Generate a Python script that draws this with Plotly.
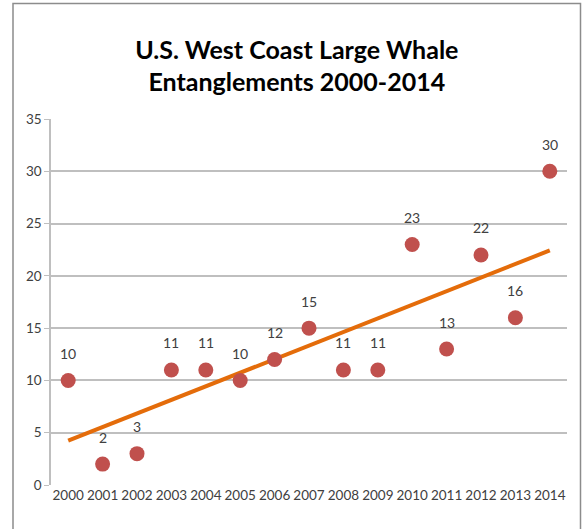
import plotly.graph_objects as go
import numpy as np

years = ["2000","2001","2002","2003","2004","2005","2006","2007","2008","2009","2010","2011","2012","2013","2014"]
entanglements = [10, 2, 3, 11, 11, 10, 12, 15, 11, 11, 23, 13, 22, 16, 30]
y_ticks = [0, 5, 10, 15, 20, 25, 30, 35]

xi = np.arange(len(years))
slope, intercept = np.polyfit(xi, entanglements, 1)
trend = slope * xi + intercept

fig = go.Figure()
fig.add_trace(go.Scatter(x=xi, y=trend, mode="lines",
                         line=dict(color="#E46C0A", width=4), hoverinfo="skip"))
fig.add_trace(go.Scatter(x=xi, y=entanglements, mode="markers",
                         marker=dict(color="#C0504D", size=15)))

for i, v in enumerate(entanglements):
    fig.add_annotation(x=i, y=v, text=str(v), showarrow=False, yshift=27,
                       font=dict(family="Lato", size=14, color="#404040"))

W, H = 582, 529
ml, mr, mt, mb = 51, 15, 119, 44
pw, ph = W - ml - mr, H - mt - mb
def px(x): return (x - ml) / pw
def py(y): return (H - mb - y) / ph

fig.add_shape(type="rect", xref="paper", yref="paper",
              x0=px(13), x1=px(580.5), y0=py(540), y1=py(3.5),
              line=dict(color="#8C8C8C", width=1.5), fillcolor="rgba(0,0,0,0)", layer="below")

fig.update_layout(
    width=W, height=H,
    margin=dict(l=ml, r=mr, t=mt, b=mb),
    paper_bgcolor="white", plot_bgcolor="white",
    showlegend=False,
    title=dict(text="<b>U.S. West Coast Large Whale<br>Entanglements 2000-2014</b>",
               x=0.51, xanchor="center", y=1 - 58.5 / H, yanchor="middle",
               font=dict(family="Lato", size=25, color="#000000")),
    xaxis=dict(range=[-0.5, 14.5], tickmode="array", tickvals=xi.tolist(), ticktext=years,
               showgrid=False, zeroline=False, showline=False,
               tickfont=dict(family="Lato", size=13.5, color="#404040"), ticks=""),
    yaxis=dict(range=[0, 35], tickmode="array", tickvals=y_ticks,
               showgrid=True, gridcolor="#BFBFBF", gridwidth=1.5,
               zeroline=False, showline=True, linecolor="#BFBFBF", linewidth=1.5,
               ticks="outside", ticklen=5, tickcolor="#BFBFBF",
               tickfont=dict(family="Lato", size=13.5, color="#404040")),
    font=dict(family="Lato"),
)

fig.write_html("out.html", config={"displayModeBar": False},
               post_script="document.body.style.margin='0';")
